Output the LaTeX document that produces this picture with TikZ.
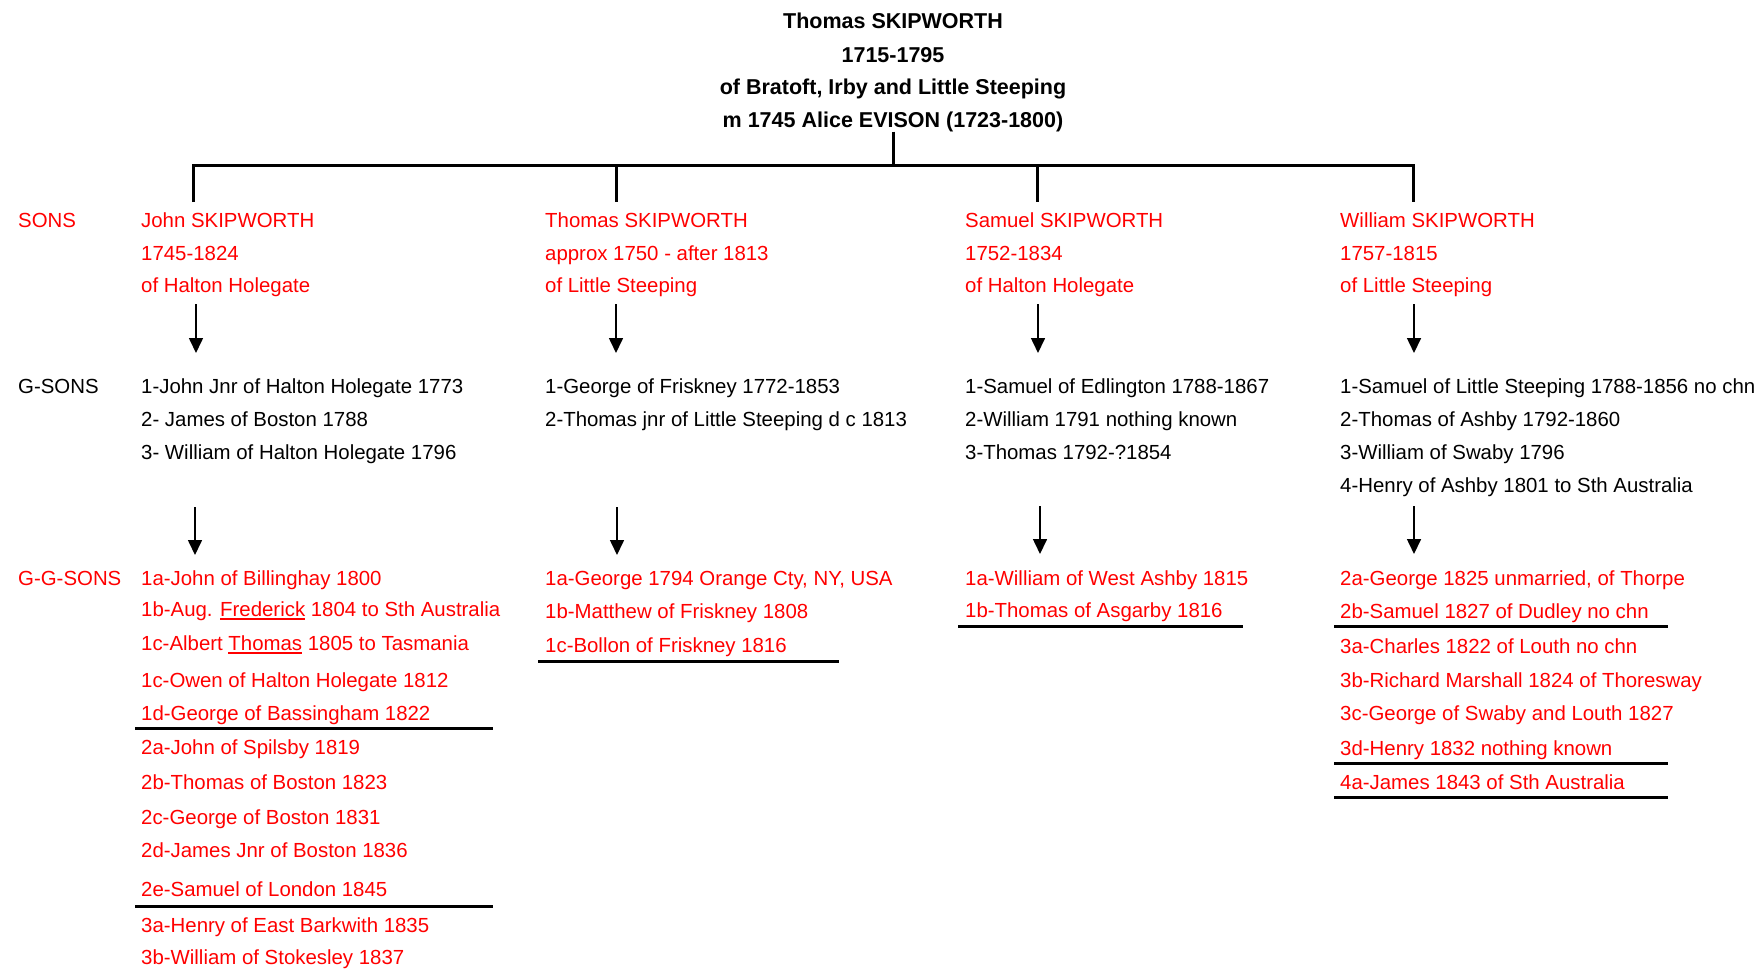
\documentclass[tikz,border=0pt]{standalone}
\usepackage{fontspec}
\setmainfont{Liberation Sans}
\usetikzlibrary{arrows.meta}
\definecolor{rd}{RGB}{255,0,0}
\newcommand\ulr[1]{\leavevmode\setbox0\hbox{#1}\rlap{\rule[-3.5pt]{\wd0}{1.8pt}}\box0\relax}
\tikzset{
  txt/.style={anchor=base west, inner sep=0pt, font=\fontsize{20.4}{24}\selectfont},
  rtxt/.style={txt, text=rd},
  ttl/.style={anchor=base, inner sep=0pt, font=\fontsize{21.5}{25}\selectfont\bfseries},
  ln/.style={line width=3pt},
  arr/.style={line width=1.6pt, -{Triangle[width=14pt,length=15pt]}},
  sepline/.style={line width=3pt}
}
\begin{document}
\begin{tikzpicture}[x=1pt,y=-1pt]
\useasboundingbox (0,0) rectangle (1760,970);
% title
\node[ttl] (t1) at (893,28) {Thomas SKIPWORTH};
\node[ttl] (t2) at (893,62) {1715-1795};
\node[ttl] (t3) at (893,94) {of Bratoft, Irby and Little Steeping};
\node[ttl] (t4) at (893,127) {m 1745 Alice EVISON (1723-1800)};
% row labels
\node[rtxt] (lsons) at (18,227) {SONS};
\node[txt] (lgsons) at (18,393) {G-SONS};
\node[rtxt] (lggsons) at (18,585) {G-G-SONS};
% sons
\node[rtxt] (s1a) at (141,227) {John SKIPWORTH};
\node[rtxt] (s1b) at (141,260) {1745-1824};
\node[rtxt] (s1c) at (141,292) {of Halton Holegate};
\node[rtxt] (s2a) at (545,227) {Thomas SKIPWORTH};
\node[rtxt] (s2b) at (545,260) {approx 1750 - after 1813};
\node[rtxt] (s2c) at (545,292) {of Little Steeping};
\node[rtxt] (s3a) at (965,227) {Samuel SKIPWORTH};
\node[rtxt] (s3b) at (965,260) {1752-1834};
\node[rtxt] (s3c) at (965,292) {of Halton Holegate};
\node[rtxt] (s4a) at (1340,227) {William SKIPWORTH};
\node[rtxt] (s4b) at (1340,260) {1757-1815};
\node[rtxt] (s4c) at (1340,292) {of Little Steeping};
% grandsons
\node[txt] (g1a) at (141,393) {1-John Jnr of Halton Holegate 1773};
\node[txt] (g1b) at (141,426) {2- James of Boston 1788};
\node[txt] (g1c) at (141,459) {3- William of Halton Holegate 1796};
\node[txt] (g2a) at (545,393) {1-George of Friskney 1772-1853};
\node[txt] (g2b) at (545,426) {2-Thomas jnr of Little Steeping d c 1813};
\node[txt] (g3a) at (965,393) {1-Samuel of Edlington 1788-1867};
\node[txt] (g3b) at (965,426) {2-William 1791 nothing known};
\node[txt] (g3c) at (965,459) {3-Thomas 1792-?1854};
\node[txt] (g4a) at (1340,393) {1-Samuel of Little Steeping 1788-1856 no chn};
\node[txt] (g4b) at (1340,426) {2-Thomas of Ashby 1792-1860};
\node[txt] (g4c) at (1340,459) {3-William of Swaby 1796};
\node[txt] (g4d) at (1340,492) {4-Henry of Ashby 1801 to Sth Australia};
% great-grandsons col 1
\node[rtxt] (h1a) at (141,585) {1a-John of Billinghay 1800};
\node[rtxt] (h1b) at (141,616) {1b-Aug. \ulr{Frederick} 1804 to Sth Australia};
\node[rtxt] (h1c) at (141,650) {1c-Albert \ulr{Thomas} 1805 to Tasmania};
\node[rtxt] (h1d) at (141,687) {1c-Owen of Halton Holegate 1812};
\node[rtxt] (h1e) at (141,720) {1d-George of Bassingham 1822};
\node[rtxt] (h1f) at (141,754) {2a-John of Spilsby 1819};
\node[rtxt] (h1g) at (141,789) {2b-Thomas of Boston 1823};
\node[rtxt] (h1h) at (141,824) {2c-George of Boston 1831};
\node[rtxt] (h1i) at (141,857) {2d-James Jnr of Boston 1836};
\node[rtxt] (h1j) at (141,896) {2e-Samuel of London 1845};
\node[rtxt] (h1k) at (141,932) {3a-Henry of East Barkwith 1835};
\node[rtxt] (h1l) at (141,964) {3b-William of Stokesley 1837};
% col 2
\node[rtxt] (h2a) at (545,585) {1a-George 1794 Orange Cty, NY, USA};
\node[rtxt] (h2b) at (545,618) {1b-Matthew of Friskney 1808};
\node[rtxt] (h2c) at (545,652) {1c-Bollon of Friskney 1816};
% col 3
\node[rtxt] (h3a) at (965,585) {1a-William of West Ashby 1815};
\node[rtxt] (h3b) at (965,617) {1b-Thomas of Asgarby 1816};
% col 4
\node[rtxt] (h4a) at (1340,585) {2a-George 1825 unmarried, of Thorpe};
\node[rtxt] (h4b) at (1340,618) {2b-Samuel 1827 of Dudley no chn};
\node[rtxt] (h4c) at (1340,653) {3a-Charles 1822 of Louth no chn};
\node[rtxt] (h4d) at (1340,687) {3b-Richard Marshall 1824 of Thoresway};
\node[rtxt] (h4e) at (1340,720) {3c-George of Swaby and Louth 1827};
\node[rtxt] (h4f) at (1340,755) {3d-Henry 1832 nothing known};
\node[rtxt] (h4g) at (1340,789) {4a-James 1843 of Sth Australia};
% tree connectors
\coordinate (j0) at (893,165);
\coordinate (d1) at (193,202);
\coordinate (d2) at (616,202);
\coordinate (d3) at (1037,202);
\coordinate (d4) at (1413,202);
\draw[ln] (t4.south) -- (j0);
\draw[ln] (d1) -- (d1 |- j0) -- (d4 |- j0) -- (d4);
\draw[ln] (d2 |- j0) -- (d2);
\draw[ln] (d3 |- j0) -- (d3);
% arrows sons -> grandsons
\coordinate (a1s) at (196,304); \coordinate (a1e) at (196,353);
\coordinate (a2s) at (616,304); \coordinate (a2e) at (616,353);
\coordinate (a3s) at (1038,304); \coordinate (a3e) at (1038,353);
\coordinate (a4s) at (1414,304); \coordinate (a4e) at (1414,353);
\draw[arr] (a1s) -- (a1e);
\draw[arr] (a2s) -- (a2e);
\draw[arr] (a3s) -- (a3e);
\draw[arr] (a4s) -- (a4e);
% arrows grandsons -> great-grandsons
\coordinate (b1s) at (195,507); \coordinate (b1e) at (195,555);
\coordinate (b2s) at (617,507); \coordinate (b2e) at (617,555);
\coordinate (b3s) at (1040,506); \coordinate (b3e) at (1040,554);
\coordinate (b4s) at (1414,506); \coordinate (b4e) at (1414,554);
\draw[arr] (b1s) -- (b1e);
\draw[arr] (b2s) -- (b2e);
\draw[arr] (b3s) -- (b3e);
\draw[arr] (b4s) -- (b4e);
% separator rules
\draw[sepline] (135,728) -- (493,728);
\draw[sepline] (135,906) -- (493,906);
\draw[sepline] (538,661) -- (839,661);
\draw[sepline] (958,626) -- (1243,626);
\draw[sepline] (1334,626) -- (1668,626);
\draw[sepline] (1334,763) -- (1668,763);
\draw[sepline] (1334,797) -- (1668,797);
\end{tikzpicture}
\end{document}
